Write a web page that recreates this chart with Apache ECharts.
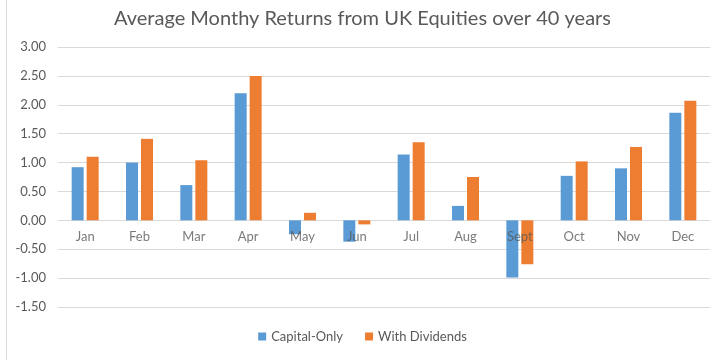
<!DOCTYPE html>
<html><head><meta charset="utf-8">
<script src="https://cdn.jsdelivr.net/npm/echarts@6/dist/echarts.min.js"></script>
<style>html,body{margin:0;padding:0;background:#fff}#c{width:725px;height:360px}</style>
</head><body><div id="c"></div>
<script>
const categories = ['Jan','Feb','Mar','Apr','May','Jun','Jul','Aug','Sept','Oct','Nov','Dec'];
const capitalOnly = [0.92, 1.00, 0.61, 2.20, -0.24, -0.37, 1.14, 0.25, -0.99, 0.77, 0.90, 1.86];
const withDividends = [1.10, 1.41, 1.04, 2.50, 0.13, -0.07, 1.35, 0.75, -0.76, 1.02, 1.27, 2.07];
const yTicks = [-1.5, -1.0, -0.5, 0, 0.5, 1.0, 1.5, 2.0, 2.5, 3.0];

const chart = echarts.init(document.getElementById('c'));
const font = 'Lato, "Open Sans", sans-serif';
chart.setOption({
  animation: false,
  textStyle: {fontFamily: font},
  title: {
    text: 'Average Monthy Returns from UK Equities over 40 years',
    left: 'center', top: 4,
    textStyle: {fontSize: 20, fontWeight: 'normal', color: '#595959', fontFamily: font}
  },
  legend: {
    bottom: 12, left: 'center',
    itemWidth: 8, itemHeight: 8, itemGap: 22,
    icon: 'rect',
    textStyle: {fontSize: 13, color: '#595959', fontFamily: font},
    data: ['Capital-Only', 'With Dividends']
  },
  graphic: [{type: 'line', shape: {x1: 6.5, y1: 0, x2: 6.5, y2: 360}, style: {stroke: '#d9d9d9', lineWidth: 1}}],
  grid: {left: 58, right: 15, top: 47, bottom: 53, containLabel: false},
  xAxis: {
    type: 'category', data: categories,
    axisLine: {show: false},
    axisTick: {show: false},
    axisLabel: {show: false}
  },
  yAxis: {
    type: 'value', min: yTicks[0], max: yTicks[yTicks.length-1], interval: 0.5,
    axisLine: {show: false}, axisTick: {show: false},
    splitLine: {lineStyle: {color: '#d9d9d9'}},
    axisLabel: {fontSize: 13, color: '#595959', margin: 12, formatter: v => v.toFixed(2), fontFamily: font}
  },
  series: [
    {name: 'Capital-Only', type: 'bar', data: capitalOnly, barWidth: 12, barGap: '25%', itemStyle: {color: '#5B9BD5'}},
    {name: 'With Dividends', type: 'bar', data: withDividends, barWidth: 12, barGap: '25%', itemStyle: {color: '#ED7D31'}},
    {name: 'labels', type: 'scatter', symbolSize: 0, silent: true, z: 5,
     data: categories.map(c => [c, 0]),
     label: {show: true, position: 'bottom', distance: 10, formatter: p => p.value[0],
             fontSize: 13, color: '#595959', fontFamily: font}}
  ]
});
</script></body></html>
